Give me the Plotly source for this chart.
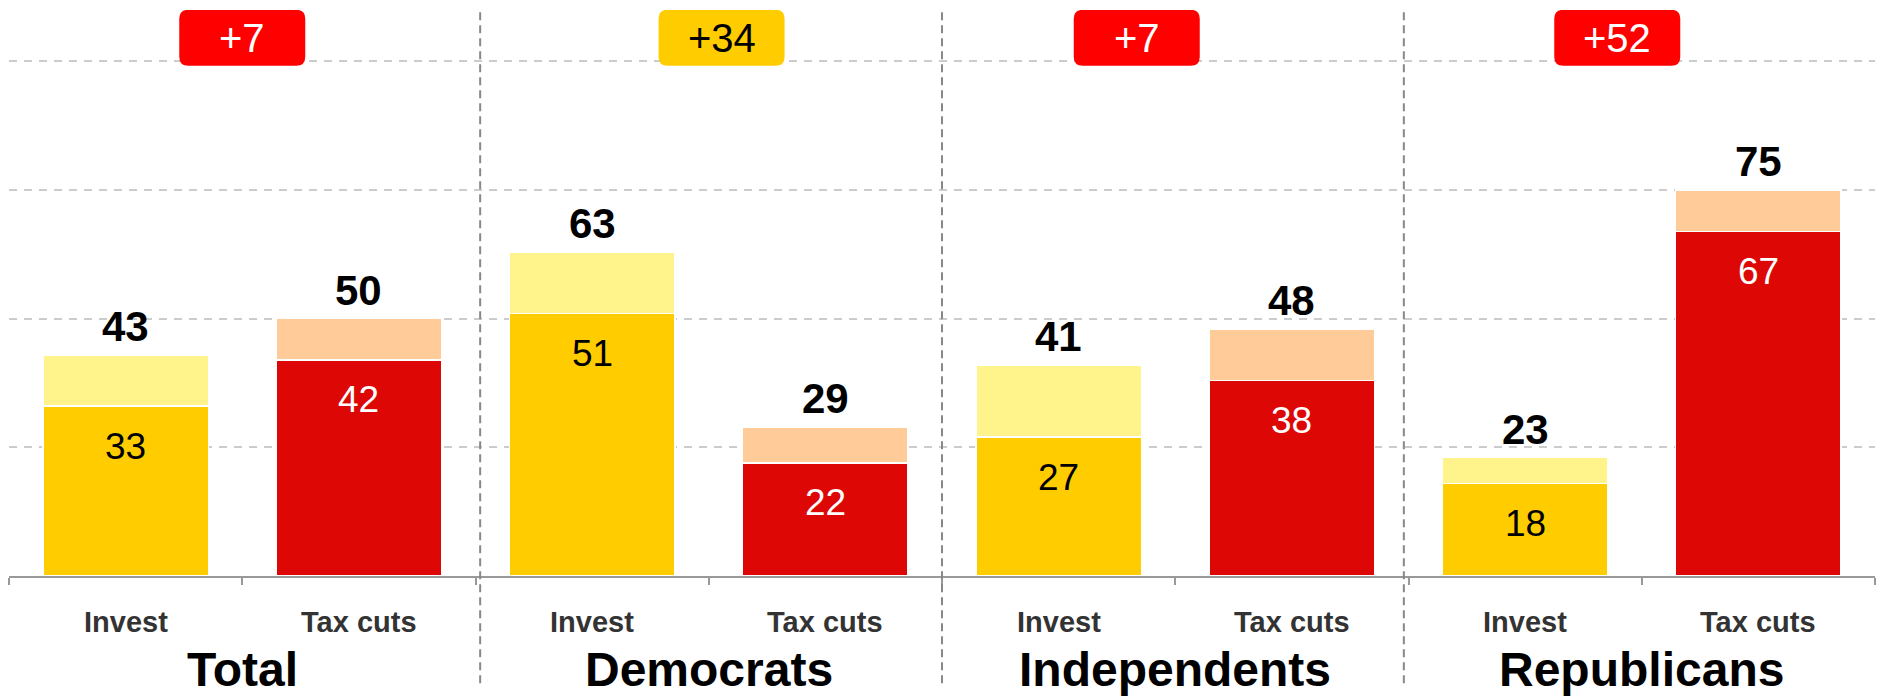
import plotly.graph_objects as go

# ---- data ----
groups = ["Total", "Democrats", "Independents", "Republicans"]
options = ["Invest", "Tax cuts"]
strong_invest = [33, 51, 27, 18]
total_invest = [43, 63, 41, 23]
strong_tax = [42, 22, 38, 67]
total_tax = [50, 29, 48, 75]

# ---- derived per-bar lists (bar order: group by group, Invest then Tax cuts) ----
base_vals, tot_vals, base_cols, light_cols, in_txt_cols, cat_labels = [], [], [], [], [], []
for g in range(len(groups)):
    base_vals += [strong_invest[g], strong_tax[g]]
    tot_vals += [total_invest[g], total_tax[g]]
    base_cols += ["#FFCC00", "#DD0806"]
    light_cols += ["#FFF48C", "#FFCC99"]
    in_txt_cols += ["#000000", "#FFFFFF"]
    cat_labels += options
extra_vals = [t - b for t, b in zip(tot_vals, base_vals)]
xs = list(range(len(base_vals)))

FONT = "Liberation Sans, Arial, sans-serif"

fig = go.Figure()
fig.add_trace(go.Bar(x=xs, y=base_vals, marker=dict(color=base_cols, line=dict(color="white", width=1.5)),
                     width=0.71, hoverinfo="skip", showlegend=False))
fig.add_trace(go.Bar(x=xs, y=extra_vals, marker=dict(color=light_cols, line=dict(color="white", width=1.5)),
                     width=0.71, hoverinfo="skip", showlegend=False))

ann = []
for i in xs:
    ann.append(dict(x=i, y=base_vals[i], xref="x", yref="y", text=str(base_vals[i]), showarrow=False,
                    yshift=-40, yanchor="middle", font=dict(family=FONT, size=37, color=in_txt_cols[i])))
    ann.append(dict(x=i, y=tot_vals[i], xref="x", yref="y", text="<b>%d</b>" % tot_vals[i], showarrow=False,
                    yshift=3, yanchor="bottom", font=dict(family=FONT, size=42, color="#000000")))
    ann.append(dict(x=i, y=0, xref="x", yref="y", text="<b>%s</b>" % cat_labels[i], showarrow=False,
                    yshift=-46, yanchor="middle", font=dict(family=FONT, size=29, color="#333333")))

shapes = []
badge_x = [0.5, 2.555, 4.335, 6.395]
badge_y = 104.6
w, h, r = 63, 28, 9
path = (f"M {-w+r},{-h} L {w-r},{-h} Q {w},{-h} {w},{-h+r} L {w},{h-r} Q {w},{h} {w-r},{h} "
        f"L {-w+r},{h} Q {-w},{h} {-w},{h-r} L {-w},{-h+r} Q {-w},{-h} {-w+r},{-h} Z")
for g in range(len(groups)):
    gx = 2 * g + 0.5
    ann.append(dict(x=gx, y=0, xref="x", yref="y", text="<b>%s</b>" % groups[g], showarrow=False,
                    yshift=-93, yanchor="middle", font=dict(family=FONT, size=48, color="#000000")))
    diff = abs(total_tax[g] - total_invest[g])
    invest_leads = total_invest[g] > total_tax[g]
    bcol = "#FFCC00" if invest_leads else "#FF0000"
    tcol = "#000000" if invest_leads else "#FFFFFF"
    shapes.append(dict(type="path", xref="x", yref="y", xsizemode="pixel", ysizemode="pixel",
                       xanchor=badge_x[g], yanchor=badge_y, path=path,
                       fillcolor=bcol, line=dict(width=0), layer="above"))
    ann.append(dict(x=badge_x[g], y=badge_y, xref="x", yref="y", text="+%d" % diff, showarrow=False,
                    yanchor="middle", font=dict(family=FONT, size=40, color=tcol)))

for sx in [1.52, 3.5, 5.48]:
    shapes.append(dict(type="line", xref="x", yref="paper", x0=sx, x1=sx, y0=0.996, y1=-0.198,
                       line=dict(color="#888888", width=2, dash="8px,5px"), layer="above"))

fig.update_layout(
    width=1881, height=700,
    margin=dict(l=9, r=6, t=10, b=124),
    paper_bgcolor="white", plot_bgcolor="white",
    barmode="stack", bargap=0.29,
    annotations=ann, shapes=shapes,
    xaxis=dict(range=[-0.5, 7.5], tickvals=[i - 0.5 for i in range(9)], showticklabels=False,
               ticks="outside", ticklen=7, tickwidth=2, tickcolor="#999999",
               showline=True, linecolor="#999999", linewidth=2, showgrid=False, zeroline=False,
               fixedrange=True),
    yaxis=dict(range=[0, 110], tickvals=[25, 50, 75, 100], showticklabels=False,
               showgrid=True, gridcolor="#CCCCCC", gridwidth=1.5, griddash="8px,7px",
               zeroline=False, showline=False, fixedrange=True),
)

fig.write_html("out.html", config={"displayModeBar": False},
               post_script="document.body.style.margin='0';document.body.style.overflow='hidden';")
